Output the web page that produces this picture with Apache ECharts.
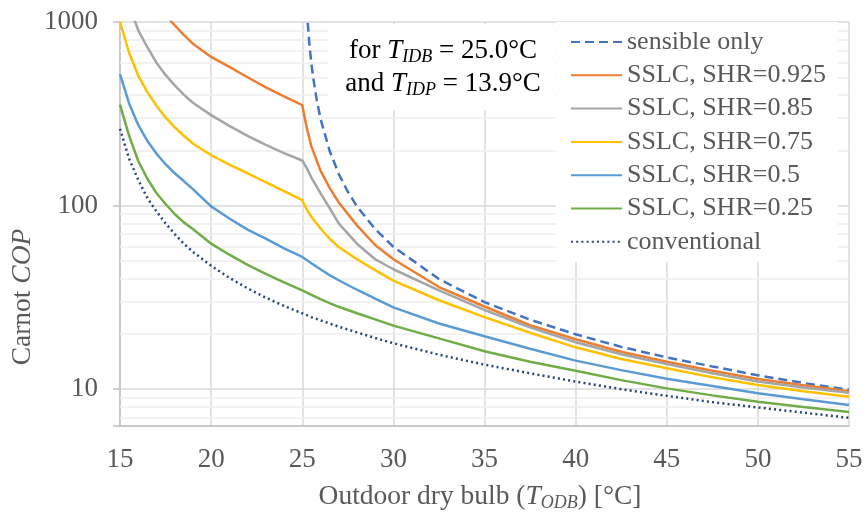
<!DOCTYPE html>
<html>
<head>
<meta charset="utf-8">
<script src="https://cdn.jsdelivr.net/npm/echarts@6.0.0/dist/echarts.min.js"></script>
<style>
html, body { margin: 0; padding: 0; background: #fff; }
#chart { width: 866px; height: 519px; }
</style>
</head>
<body>
<div id="chart"></div>
<script>
// 室外干球温度 (°C)
const odb = [15, 15.5, 16, 16.5, 17, 17.5, 18, 18.5, 19, 20, 21, 22, 23, 24, 25, 25.25, 25.5, 26, 26.5, 27, 28, 29, 30, 32.5, 35, 37.5, 40, 42.5, 45, 47.5, 50, 52.5, 55];

// SSLC 各 SHR 下的 Carnot COP
const shr0925 = [null, null, null, null, null, 1090, 960, 850, 762, 645, 570, 500, 440, 393, 352, 265, 210, 155, 125, 104, 78, 61, 51, 36, 28.2, 22.3, 18.7, 16.0, 14.1, 12.6, 11.35, 10.5, 9.75];
const shr085 = [null, 1250, 900, 730, 600, 515, 452, 402, 363, 311, 272, 240, 214, 193, 176, 160, 142, 117, 97, 80, 62, 51, 45, 34.5, 27, 21.7, 18.0, 15.5, 13.7, 12.2, 11.0, 10.2, 9.55];
const shr075 = [1000, 680, 510, 415, 350, 302, 267, 240, 218, 188, 167, 150, 134, 120, 107, 95, 87, 75, 66, 59.5, 51, 44.5, 39, 30.5, 24.7, 20.3, 16.9, 14.6, 13.0, 11.6, 10.55, 9.75, 9.1];
const shr05 = [520, 360, 275, 225, 192, 168, 150, 136, 123, 99, 85, 74, 66, 58.5, 52.5, 50.5, 48.5, 45, 41.8, 39.2, 34.8, 31.1, 27.9, 22.8, 19.4, 16.6, 14.3, 12.7, 11.4, 10.4, 9.5, 8.8, 8.2];
const shr025 = [355, 240, 175, 140, 117, 102, 90, 81, 74.5, 62, 54, 47.5, 42.5, 38.2, 34.5, 33.6, 32.6, 30.9, 29.4, 28.1, 25.9, 24.0, 22.2, 18.9, 16.1, 14.1, 12.6, 11.2, 10.1, 9.25, 8.55, 8.0, 7.5];
const conventional = [262, 180, 138, 110, 93, 80, 70, 62, 56, 47, 40.4, 35.4, 31.5, 28.4, 25.9, 25.3, 24.7, 23.7, 22.8, 21.9, 20.4, 19.0, 17.8, 15.4, 13.6, 12.2, 11.0, 10.0, 9.2, 8.5, 7.95, 7.45, 6.98];

// 仅显热
const sensibleOdb = [25.3, 25.4, 25.5, 25.6, 25.8, 26, 26.5, 27, 27.5, 28, 29, 30, 32.5, 35, 37.5, 40, 42.5, 45, 47.5, 50, 52.5, 55];
const sensibleOnly = [990, 740, 595, 497, 373, 298, 199, 149, 119, 99, 74.5, 59.6, 39.8, 29.8, 23.9, 19.9, 17.0, 14.9, 13.3, 11.9, 10.8, 9.94];

// 对数轴次网格线
const minorGrid = [7, 8, 9, 20, 30, 40, 50, 60, 70, 80, 90, 200, 300, 400, 500, 600, 700, 800, 900];
const majorLabels = [10, 100, 1000];

const FONT = '"Liberation Serif", "Times New Roman", serif';
const GRAY_TEXT = '#595959';

function pairs(xs, ys) {
    return xs.map((x, i) => [x, ys[i]]);
}

const seriesDefs = [
    { name: 'sensible only', xs: sensibleOdb, ys: sensibleOnly, color: '#4472C4', type: [9, 5] },
    { name: 'SSLC, SHR=0.925', xs: odb, ys: shr0925, color: '#ED7D31', type: 'solid' },
    { name: 'SSLC, SHR=0.85', xs: odb, ys: shr085, color: '#A5A5A5', type: 'solid' },
    { name: 'SSLC, SHR=0.75', xs: odb, ys: shr075, color: '#FFC000', type: 'solid' },
    { name: 'SSLC, SHR=0.5', xs: odb, ys: shr05, color: '#5B9BD5', type: 'solid' },
    { name: 'SSLC, SHR=0.25', xs: odb, ys: shr025, color: '#70AD47', type: 'solid' },
    { name: 'conventional', xs: odb, ys: conventional, color: '#264478', type: [2, 3.2] }
];

const series = [{
    name: 'minor',
    type: 'line',
    data: [],
    z: 1,
    silent: true,
    markLine: {
        silent: true,
        z: 1,
        symbol: 'none',
        label: { show: false },
        lineStyle: { color: '#eeeeee', width: 1.5, type: 'solid' },
        data: minorGrid.map(v => ({ yAxis: v }))
    }
}];

seriesDefs.forEach(d => {
    series.push({
        name: d.name,
        type: 'line',
        data: pairs(d.xs, d.ys),
        symbol: 'none',
        smooth: false,
        z: 3,
        itemStyle: { color: d.color },
        lineStyle: { color: d.color, width: 2.5, type: d.type }
    });
});

const chart = echarts.init(document.getElementById('chart'));

const option = {
    backgroundColor: '#fff',
    animation: false,
    grid: { left: 120, right: 17, top: 22, bottom: 93 },
    xAxis: {
        type: 'value',
        min: 15,
        max: 55,
        interval: 5,
        axisLine: { show: true, onZero: false, lineStyle: { color: '#bfbfbf', width: 1.5 } },
        axisTick: { show: false },
        axisLabel: { color: GRAY_TEXT, fontFamily: FONT, fontSize: 27, margin: 20 },
        splitLine: { show: true, lineStyle: { color: '#d9d9d9', width: 1.5 } }
    },
    yAxis: {
        type: 'log',
        logBase: 10,
        min: 6.3,
        max: 1000,
        axisLine: { show: true, lineStyle: { color: '#bfbfbf', width: 1.5 } },
        axisTick: { show: true, length: 7, lineStyle: { color: '#bfbfbf', width: 1.5 } },
        axisLabel: {
            color: GRAY_TEXT,
            fontFamily: FONT,
            fontSize: 27,
            margin: 22,
            formatter: function (v) {
                const r = Math.round(v);
                return majorLabels.includes(r) ? String(r) : '';
            }
        },
        splitLine: { show: true, lineStyle: { color: '#d9d9d9', width: 1.5 } }
    },
    legend: {
        data: seriesDefs.map(d => d.name),
        orient: 'vertical',
        left: 556,
        top: 22,
        padding: [7, 12, 7, 14],
        itemGap: 7.3,
        itemWidth: 51,
        itemHeight: 14,
        backgroundColor: '#fff',
        itemStyle: { opacity: 0 },
        textStyle: { color: GRAY_TEXT, fontFamily: FONT, fontSize: 26, lineHeight: 26 }
    },
    graphic: [
        {
            type: 'rect',
            z: 50,
            shape: { x: 328, y: 24, width: 227, height: 86 },
            style: { fill: '#fff' }
        },
        {
            type: 'text',
            z: 51,
            x: 443,
            y: 51,
            style: {
                text: 'for {i|T}{s|IDB} = 25.0°C',
                align: 'center',
                verticalAlign: 'middle',
                fill: '#000',
                fontFamily: FONT,
                fontSize: 27,
                rich: {
                    i: { fontFamily: FONT, fontSize: 27, fontStyle: 'italic', fill: '#000' },
                    s: { fontFamily: FONT, fontSize: 18, fontStyle: 'italic', fill: '#000', padding: [13, 0, 0, 0] }
                }
            }
        },
        {
            type: 'text',
            z: 51,
            x: 443,
            y: 84,
            style: {
                text: 'and {i|T}{s|IDP} = 13.9°C',
                align: 'center',
                verticalAlign: 'middle',
                fill: '#000',
                fontFamily: FONT,
                fontSize: 27,
                rich: {
                    i: { fontFamily: FONT, fontSize: 27, fontStyle: 'italic', fill: '#000' },
                    s: { fontFamily: FONT, fontSize: 18, fontStyle: 'italic', fill: '#000', padding: [13, 0, 0, 0] }
                }
            }
        },
        {
            type: 'text',
            z: 51,
            x: 23,
            y: 297,
            rotation: Math.PI / 2,
            style: {
                text: 'Carnot {i|COP}',
                align: 'center',
                verticalAlign: 'middle',
                fill: GRAY_TEXT,
                fontFamily: FONT,
                fontSize: 27.5,
                rich: {
                    i: { fontFamily: FONT, fontSize: 27.5, fontStyle: 'italic', fill: GRAY_TEXT }
                }
            }
        },
        {
            type: 'text',
            z: 51,
            x: 480,
            y: 497,
            style: {
                text: 'Outdoor dry bulb ({i|T}{s|ODB}) [°C]',
                align: 'center',
                verticalAlign: 'middle',
                fill: GRAY_TEXT,
                fontFamily: FONT,
                fontSize: 27.5,
                rich: {
                    i: { fontFamily: FONT, fontSize: 27.5, fontStyle: 'italic', fill: GRAY_TEXT },
                    s: { fontFamily: FONT, fontSize: 18, fontStyle: 'italic', fill: GRAY_TEXT, padding: [13, 0, 0, 0] }
                }
            }
        }
    ],
    series: series
};

chart.setOption(option);
</script>
</body>
</html>
